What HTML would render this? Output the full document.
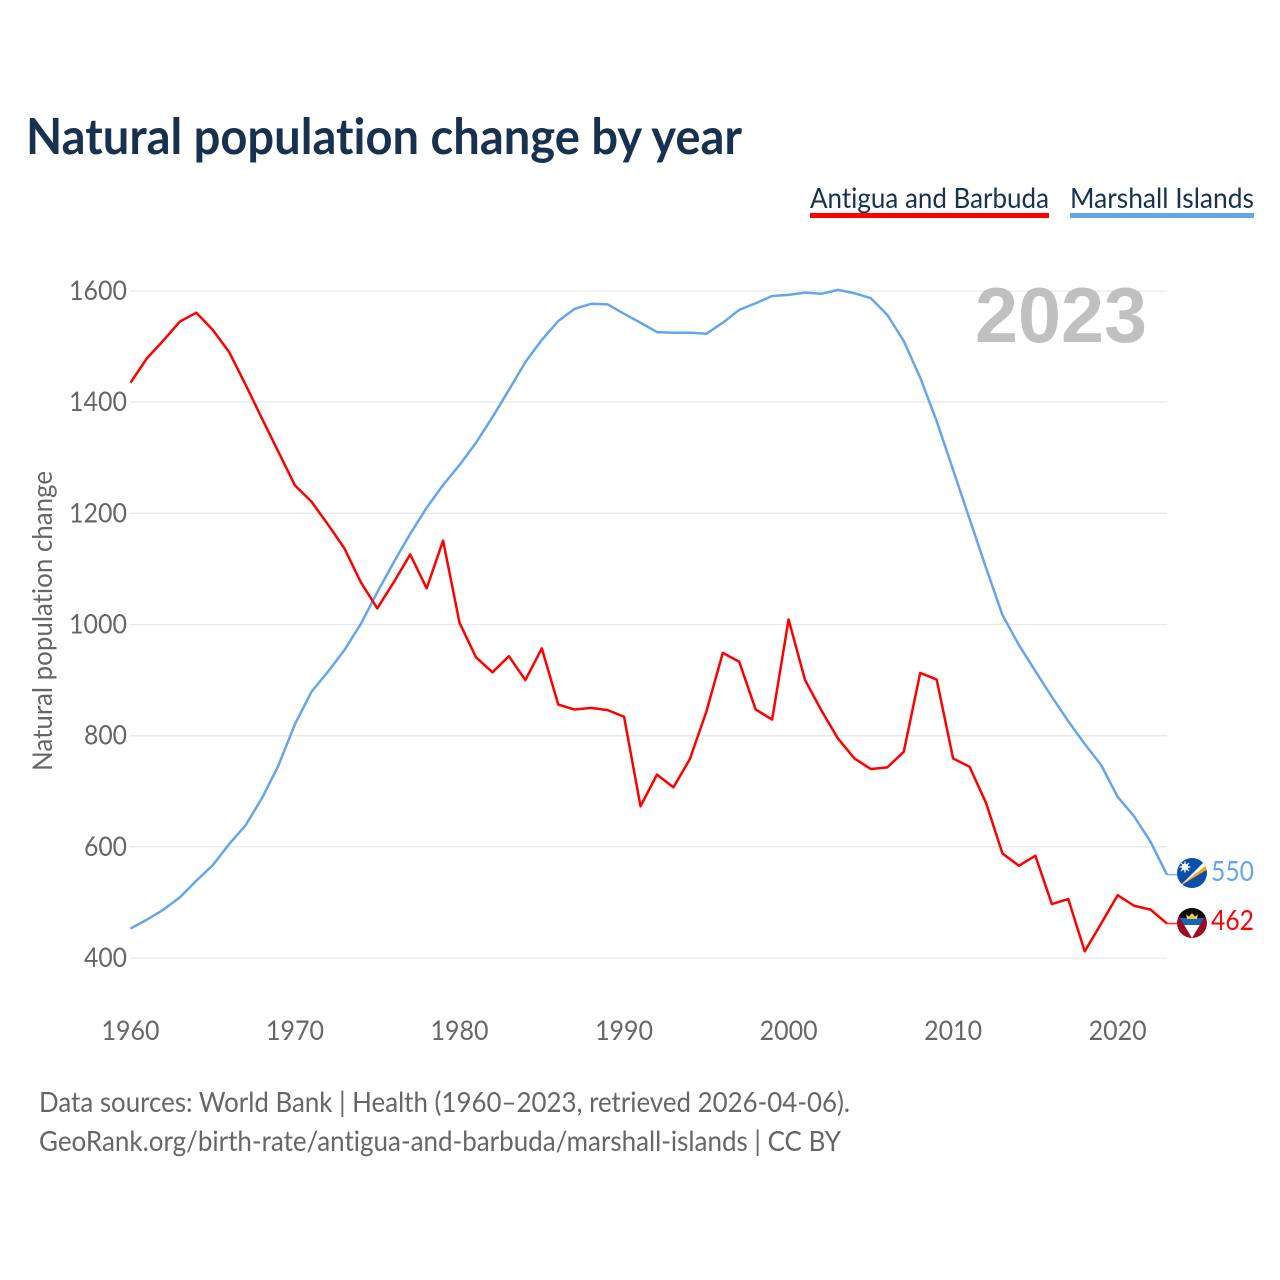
<!DOCTYPE html>
<html lang="en">
<head>
<meta charset="utf-8">
<title>Natural population change by year</title>
<style>
html,body{margin:0;padding:0;background:#fff;width:1280px;height:1280px;overflow:hidden}
svg{display:block}
text{font-family:"Lato","Carlito","Liberation Sans",sans-serif;font-variant-ligatures:none}
.tick{font-size:27.5px;fill:#666}
.foot{font-size:28.5px;fill:#666}
.leg{font-size:28px;fill:#17314f}
</style>
</head>
<body>
<svg id="chart" xmlns="http://www.w3.org/2000/svg" width="1280" height="1280" viewBox="0 0 1280 1280">
  <defs>
    <clipPath id="clip-mh"><circle cx="1192" cy="873" r="15"/></clipPath>
    <clipPath id="clip-ag"><circle cx="1192" cy="923" r="15"/></clipPath>
  </defs>
  <rect width="1280" height="1280" fill="#fff"/>
  <text x="26" y="154" font-size="50" font-weight="700" fill="#17314f" textLength="716" lengthAdjust="spacingAndGlyphs">Natural population change by year</text>

  <g id="legend">
    <g>
      <text class="leg" x="810" y="208" textLength="239" lengthAdjust="spacingAndGlyphs">Antigua and Barbuda</text>
      <rect x="810" y="213" width="239" height="5" fill="#ff0000"/>
    </g>
    <g>
      <text class="leg" x="1070" y="208" textLength="184" lengthAdjust="spacingAndGlyphs">Marshall Islands</text>
      <rect x="1070" y="213" width="184" height="5" fill="#63a6ec"/>
    </g>
  </g>

  <g id="grid"></g>
  <g id="yticks"></g>
  <g id="xticks"></g>

  <text x="975" y="342" font-size="78" font-weight="700" fill="#c0c0c0" style="font-family:'Liberation Sans',sans-serif" textLength="172" lengthAdjust="spacingAndGlyphs">2023</text>

  <text transform="translate(52,771) rotate(-90)" font-size="27" fill="#666" textLength="300" lengthAdjust="spacingAndGlyphs">Natural population change</text>

  <g id="series"></g>

  <g clip-path="url(#clip-mh)">
    <rect x="1177" y="858" width="30" height="30" fill="#0a50a8"/>
    <polygon points="1180,886 1208,859 1208,869" fill="#f7a11e"/>
    <polygon points="1180,886 1206,860 1208,864" fill="#fff"/>
    <circle cx="1185" cy="867" r="3.4" fill="#fff"/>
    <path d="M1185 861.5v11M1179.5 867h11M1181 863l8 8M1189 863l-8 8" stroke="#fff" stroke-width="1.2"/>
  </g>
  <g clip-path="url(#clip-ag)">
    <rect x="1177" y="908" width="30" height="30" fill="#9c0b26"/>
    <polygon points="1177,908 1207,908 1207,913 1192,938 1177,913" fill="#0b0b0b"/>
    <polygon points="1180,918 1204,918 1199.8,925 1184.2,925" fill="#1566bd"/>
    <polygon points="1184.2,925 1199.8,925 1192,938" fill="#fff"/>
    <polygon points="1187,919 1197,919 1198,914.5 1195,916.5 1192,913 1189,916.5 1186,914.5" fill="#f5c842"/>
  </g>

  <text id="label-mh" x="1211" y="881" font-size="28" fill="#63a6ec" textLength="43" lengthAdjust="spacingAndGlyphs"></text>
  <text id="label-ag" x="1211" y="930" font-size="28" fill="#ff0000" textLength="43" lengthAdjust="spacingAndGlyphs"></text>

  <text class="foot" x="39" y="1112" textLength="811" lengthAdjust="spacingAndGlyphs">Data sources: World Bank | Health (1960–2023, retrieved 2026-04-06).</text>
  <text class="foot" x="39" y="1151" textLength="802" lengthAdjust="spacingAndGlyphs">GeoRank.org/birth-rate/antigua-and-barbuda/marshall-islands | CC BY</text>
</svg>

<script>
const yTickValues = [400, 600, 800, 1000, 1200, 1400, 1600];
const xTickValues = [1960, 1970, 1980, 1990, 2000, 2010, 2020];
const startYear = 1960;
const antiguaValues = [1435, 1479, 1511, 1545, 1561, 1530, 1490, 1431, 1370, 1310,
  1250, 1221, 1180, 1137, 1076, 1029, 1076, 1126, 1065, 1151,
  1003, 941, 914, 943, 900, 957, 856, 847, 850, 846,
  834, 673, 730, 707, 758, 843, 949, 933, 847, 829,
  1009, 900, 845, 795, 759, 740, 743, 771, 913, 901,
  759, 744, 679, 588, 566, 584, 497, 506, 412, 462,
  513, 494, 487, 462];
const marshallValues = [453, 469, 487, 509, 539, 567, 605, 639, 688, 747,
  821, 879, 915, 954, 1001, 1058, 1112, 1163, 1210, 1251,
  1287, 1327, 1373, 1422, 1472, 1512, 1546, 1568, 1577, 1576,
  1559, 1543, 1526, 1525, 1525, 1523, 1543, 1566, 1578, 1591,
  1593, 1597, 1595, 1602, 1596, 1587, 1557, 1510, 1444, 1366,
  1278, 1190, 1102, 1017, 963, 916, 870, 826, 785, 747,
  690, 655, 609, 550];

const SVG_NS = 'http://www.w3.org/2000/svg';
function xScale(year) { return 130.5 + (year - 1960) * (1167 - 130.5) / 63; }
function yScale(value) { return 958 - (value - 400) * (958 - 291) / 1200; }

const gridGroup = document.getElementById('grid');
const yTickGroup = document.getElementById('yticks');
const xTickGroup = document.getElementById('xticks');
const seriesGroup = document.getElementById('series');

yTickValues.forEach(function (v) {
  const line = document.createElementNS(SVG_NS, 'line');
  
  
  line.setAttribute('x1', 130);
  line.setAttribute('x2', 1167);
  line.setAttribute('y1', yScale(v));
  line.setAttribute('y2', yScale(v));
  line.setAttribute('stroke', '#e9e9e9');
  line.setAttribute('stroke-width', '1.3');
  gridGroup.appendChild(line);

  const label = document.createElementNS(SVG_NS, 'text');
  
  
  label.setAttribute('class', 'tick');
  label.setAttribute('x', String(v).length === 4 ? 69 : 84);
  label.setAttribute('y', yScale(v) + 9);
  label.setAttribute('textLength', String(v).length === 4 ? 58 : 43);
  label.setAttribute('lengthAdjust', 'spacingAndGlyphs');
  label.textContent = v;
  yTickGroup.appendChild(label);
});

xTickValues.forEach(function (y) {
  const label = document.createElementNS(SVG_NS, 'text');
  
  
  label.setAttribute('class', 'tick');
  label.setAttribute('x', xScale(y) - 29);
  label.setAttribute('y', 1040);
  label.setAttribute('textLength', 58);
  label.setAttribute('lengthAdjust', 'spacingAndGlyphs');
  label.textContent = y;
  xTickGroup.appendChild(label);
});

function drawSeries(values, color, name) {
  const pts = values.map(function (v, i) { return xScale(startYear + i).toFixed(2) + ',' + yScale(v).toFixed(2); });
  const path = document.createElementNS(SVG_NS, 'polyline');
  
  
  path.setAttribute('points', pts.join(' '));
  path.setAttribute('fill', 'none');
  path.setAttribute('stroke', color);
  path.setAttribute('stroke-width', '2.5');
  path.setAttribute('stroke-linejoin', 'round');
  seriesGroup.appendChild(path);

  const lastY = yScale(values[values.length - 1]);
  const lead = document.createElementNS(SVG_NS, 'line');
  
  
  lead.setAttribute('x1', xScale(startYear + values.length - 1));
  lead.setAttribute('x2', 1178);
  lead.setAttribute('y1', lastY);
  lead.setAttribute('y2', lastY);
  lead.setAttribute('stroke', color);
  lead.setAttribute('stroke-width', '1.6');
  lead.setAttribute('opacity', '0.8');
  seriesGroup.appendChild(lead);
}
drawSeries(marshallValues, '#63a6ec', 'marshall-islands-line');
drawSeries(antiguaValues, '#ff0000', 'antigua-and-barbuda-line');

document.getElementById('label-mh').textContent = marshallValues[marshallValues.length - 1];
document.getElementById('label-ag').textContent = antiguaValues[antiguaValues.length - 1];
</script>
</body>
</html>
